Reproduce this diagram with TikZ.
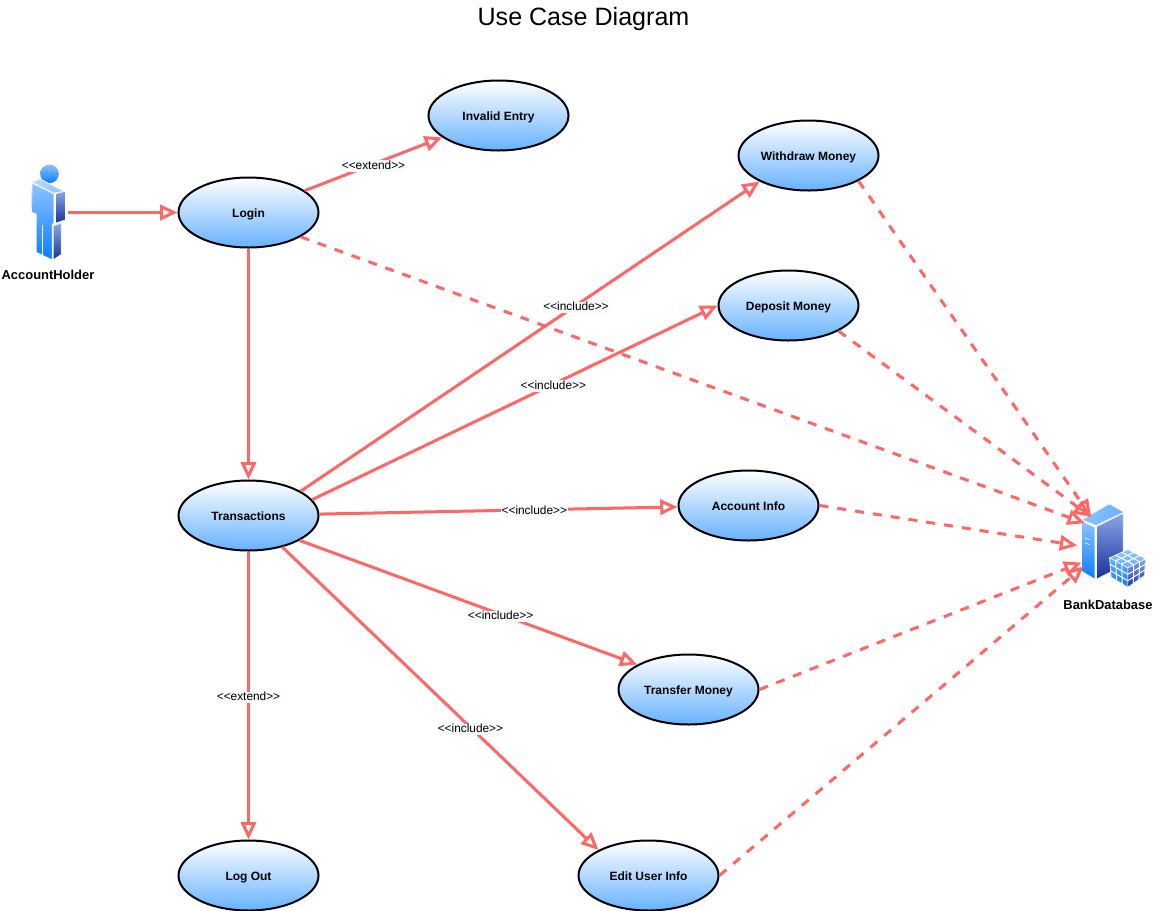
\documentclass[tikz,border=0pt]{standalone}
\usepackage{fontspec}
\setmainfont{Liberation Sans}
\usetikzlibrary{arrows.meta,shapes.geometric}
\definecolor{coral}{HTML}{FF6666}
\definecolor{skyend}{HTML}{66B2FF}
\definecolor{pale}{HTML}{8CC4FF}
\definecolor{vivid}{HTML}{0A7CFF}
\definecolor{steel}{HTML}{8AA8E8}
\definecolor{navy}{HTML}{1A2F9E}
\definecolor{tagback}{HTML}{F7F9FB}

\begin{document}
\begin{tikzpicture}[x=0.75pt,y=-0.75pt,>={Triangle[open,length=13pt,width=11.5pt]},
	usecase/.style={ellipse,draw=black,line width=1.5pt,top color=white,bottom color=skyend,
		minimum width=105pt,minimum height=52.5pt,inner sep=0pt,text height=7.5pt,text depth=0pt,
		font=\fontsize{9}{11}\selectfont\bfseries},
	caption/.style={font=\fontsize{9.7}{11}\selectfont\bfseries,inner sep=0pt},
	tag/.style={font=\fontsize{8.9}{10}\selectfont,fill=tagback,text height=6pt,text depth=1.5pt,
		inner sep=0.5pt,yshift=-1.5pt},
	flow/.style={->,draw=coral,line width=2.25pt},
	access/.style={flow,dash pattern=on 6.75pt off 6.75pt},
	facet/.style={draw=white,line width=0.5pt,line join=round}]
\useasboundingbox (-0.5,-0.5) rectangle (1153.5,910.5);
\node[font=\fontsize{18.8}{22}\selectfont] (title) at (583,18.5) {Use Case Diagram};
% use cases
\node[usecase] (login) at (248,212) {Login};
\node[usecase] (invalid) at (498,115) {Invalid Entry};
\node[usecase] (withdraw) at (808,155) {Withdraw Money};
\node[usecase] (deposit) at (788,305) {Deposit Money};
\node[usecase] (trans) at (248,515) {Transactions};
\node[usecase] (account) at (748,505) {Account Info};
\node[usecase] (transfer) at (688,689) {Transfer Money};
\node[usecase] (logout) at (248,875) {Log Out};
\node[usecase] (edit) at (648,875) {Edit User Info};
% actor and database
\node[inner sep=0pt,minimum width=28.5pt,minimum height=72pt] (holder) at (48,212) {};
\node[caption] (holderlabel) at (47.5,274.5) {AccountHolder};
\node[circle,inner sep=0pt,minimum size=54pt] (db) at (1113,545) {};
\node[caption] (dblabel) at (1107.5,604) {BankDatabase};
\begin{scope}[shift={(0,150)},scale=1/3]
	\shade[top color=pale,bottom color=vivid] (147,70) circle (28);
	\filldraw[facet,top color=pale!60,bottom color=pale] (95,95) -- (118,85) -- (190,122) -- (160,128) -- cycle;
	\filldraw[facet,top color=pale,bottom color=vivid] (95,98) -- (160,130) -- (160,218) -- (155,222) -- (155,328) -- (107,305) -- (107,190) -- (93,185) -- cycle;
	\filldraw[facet,top color=steel,bottom color=navy] (165,130) -- (195,122) -- (195,208) -- (165,218) -- cycle;
	\filldraw[facet,top color=steel,bottom color=navy] (158,226) -- (182,218) -- (182,312) -- (158,328) -- cycle;
	\draw[facet] (125,222) -- (125,315);
\end{scope}
\begin{scope}[shift={(1040,480)},scale=1/3]
	\filldraw[facet,left color=pale,right color=skyend] (123,118) -- (207,70) -- (250,95) -- (167,135) -- cycle;
	\filldraw[facet,top color=pale,bottom color=vivid] (123,122) -- (163,140) -- (163,296) -- (123,272) -- cycle;
	\filldraw[facet,top color=steel,bottom color=navy] (168,138) -- (248,98) -- (248,255) -- (168,296) -- cycle;
	\draw[facet] (133,172) -- (147,178) (133,187) -- (147,193);
	\filldraw[facet,top color=pale,bottom color=skyend] (262,207) -- (207,232) -- (262,262) -- (315,235) -- cycle;
	\filldraw[facet,top color=skyend,bottom color=vivid] (207,232) -- (262,262) -- (262,320) -- (212,290) -- cycle;
	\filldraw[facet,top color=steel,bottom color=navy] (262,262) -- (315,235) -- (312,285) -- (262,320) -- cycle;
	\draw[facet,line width=0.75pt] (243.7,215.3) -- (296.7,243.3) (225.3,223.7) -- (278.3,251.7)
		(279.7,216.3) -- (224.7,241.3) (297.3,225.7) -- (242.3,250.7)
		(225.3,242) -- (228.7,300) (243.7,252) -- (245.3,310)
		(208.7,251.3) -- (262,281.3) (210.3,270.7) -- (262,300.7)
		(279.7,253) -- (278.7,308.3) (297.3,244) -- (295.3,296.7)
		(262,281.3) -- (314,251.7) (262,300.7) -- (313,268.3);
\end{scope}
% connectors
\path[every edge/.style={flow}]
	(holder) edge (login)
	(login) edge node[tag,pos=0.5] {<{}<extend>{}>} (invalid)
		edge (trans)
	(trans.25) edge node[tag,pos=0.6] {<{}<include>{}>} (withdraw.208)
	(trans.14) edge node[tag,pos=0.595] {<{}<include>{}>} (deposit.180)
	(trans) edge node[tag,pos=0.6] {<{}<include>{}>} (account)
	(trans.-26) edge node[tag,pos=0.595] {<{}<include>{}>} (transfer.154)
	(trans) edge node[tag,pos=0.5] {<{}<extend>{}>} (logout)
	(trans.-43) edge node[tag,pos=0.595] {<{}<include>{}>} (edit.153);
\path[every edge/.style={access}]
	(login.-25) edge (db.142)
	(withdraw.-27) edge (db.128)
	(deposit.-27) edge (db.128)
	(account.0) edge (db.180)
	(transfer.0) edge (db.208)
	(edit.0) edge (db.215);
\end{tikzpicture}
\end{document}
